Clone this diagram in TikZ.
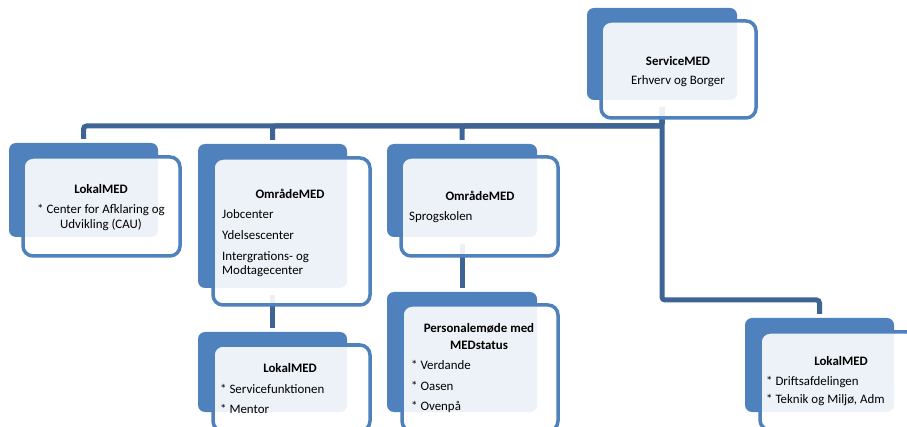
\documentclass[tikz,border=0pt]{standalone}
\usepackage{fontspec}
\setmainfont{Carlito}
\definecolor{accent}{HTML}{4F81BD}
\definecolor{conn}{HTML}{3E6496}
\tikzset{
  backbox/.style={fill=accent, rounded corners=7pt, inner sep=0pt, outer sep=0pt, anchor=north west},
  textbox/.style={fill=white, fill opacity=0.9, draw=accent, draw opacity=1, line width=3.5pt, rounded corners=10pt, inner sep=0pt, outer sep=0pt, anchor=north west},
  conn/.style={draw=conn, line width=5pt, rounded corners=3pt, shorten <=7pt, shorten >=4pt},
  ttl/.style={font=\fontsize{12.9}{15}\selectfont\bfseries, anchor=base, inner sep=0pt},
  itm/.style={font=\fontsize{12.9}{15}\selectfont, anchor=base west, inner sep=0pt},
  citm/.style={font=\fontsize{12.9}{15}\selectfont, anchor=base, inner sep=0pt},
}
\begin{document}
\begin{tikzpicture}[x=1pt,y=-1pt]
\useasboundingbox (0,0) rectangle (907,427);
\clip (0,0) rectangle (907,427);
\fill[white] (0,0) rectangle (907,427);
% back boxes
\node[backbox, minimum width=150pt, minimum height=92pt] (b1) at (587,8) {};
\node[backbox, minimum width=149pt, minimum height=94pt] (b2) at (9,143) {};
\node[backbox, minimum width=149pt, minimum height=144pt] (b3) at (198,144) {};
\node[backbox, minimum width=150pt, minimum height=93pt] (b4) at (387,144) {};
\node[backbox, minimum width=149pt, minimum height=80pt] (b5) at (198,332) {};
\node[backbox, minimum width=150pt, minimum height=120pt] (b6) at (387,292) {};
\node[backbox, minimum width=149pt, minimum height=94pt] (b7) at (745,318) {};
% levels
\coordinate (lvl1) at (0,126);
\coordinate (lvl2) at (0,300);
% connectors
\draw[conn] (b1.south) -- (b1.south |- lvl1) -| (b2.north);
\draw[conn] (b1.south) -- (b1.south |- lvl1) -| (b3.north);
\draw[conn] (b1.south) -- (b1.south |- lvl1) -| (b4.north);
\draw[conn] (b1.south) -- (b1.south |- lvl2) -| (b7.north);
\draw[conn] (b3.south) -- (b5.north);
\draw[conn] (b4.south) -- (b6.north);
% text boxes
\node[textbox, minimum width=155pt, minimum height=97pt] (r1) at (601,21) {};
\node[textbox, minimum width=157pt, minimum height=99pt] (r2) at (23,157) {};
\node[textbox, minimum width=157pt, minimum height=147pt] (r3) at (213,158) {};
\node[textbox, minimum width=157pt, minimum height=99pt] (r4) at (401,157) {};
\node[textbox, minimum width=157pt, minimum height=86pt] (r5) at (213,345) {};
\node[textbox, minimum width=156pt, minimum height=126pt] (r6) at (402,305) {};
\node[textbox, minimum width=157pt, minimum height=98pt] (r7) at (760,332) {};
% texts
\node[ttl] (t1a) at (678,66) {ServiceMED};
\node[citm] (t1b) at (678,85) {Erhverv og Borger};

\node[ttl] (t2a) at (101,194) {LokalMED};
\node[citm] (t2b) at (101,214) {* Center for Afklaring og};
\node[citm] (t2c) at (101,229) {Udvikling (CAU)};

\node[ttl] (t3a) at (290,199) {OmrådeMED};
\node[itm] (t3b) at (222,219) {Jobcenter};
\node[itm] (t3c) at (222,240) {Ydelsescenter};
\node[itm] (t3d) at (222,261) {Intergrations- og};
\node[itm] (t3e) at (222,275) {Modtagecenter};

\node[ttl] (t4a) at (480,201) {OmrådeMED};
\node[itm] (t4b) at (409,221) {Sprogskolen};

\node[ttl] (t5a) at (290,372) {LokalMED};
\node[itm] (t5b) at (220,393) {* Servicefunktionen};
\node[itm] (t5c) at (220,413) {* Mentor};

\node[ttl] (t6a) at (479,333) {Personalemøde med};
\node[ttl] (t6b) at (479,349) {MEDstatus};
\node[itm] (t6c) at (411,369) {* Verdande};
\node[itm] (t6d) at (411,390) {* Oasen};
\node[itm] (t6e) at (411,410) {* Ovenpå};

\node[ttl] (t7a) at (841,366) {LokalMED};
\node[itm] (t7b) at (766,385) {* Driftsafdelingen};
\node[itm] (t7c) at (766,403) {* Teknik og Miljø, Adm};
\end{tikzpicture}
\end{document}
